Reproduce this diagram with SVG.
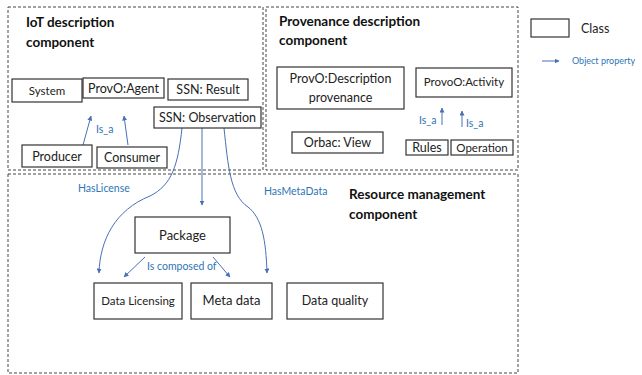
<svg xmlns="http://www.w3.org/2000/svg" width="642" height="375" viewBox="0 0 642 375">
<defs>
<marker id="ah" viewBox="0 0 10 10" refX="9" refY="5" markerWidth="5" markerHeight="5" orient="auto-start-reverse" markerUnits="userSpaceOnUse">
<path d="M0,0 L10,5 L0,10 z" fill="#4a6fb5"/>
</marker>
<style>
.cont{fill:none;stroke:#444;stroke-width:1;stroke-dasharray:3,2}
.node{fill:#fff;stroke:#333;stroke-width:1.2}
.t{font-family:Lato,"Open Sans","Liberation Sans",sans-serif;font-size:12.5px;fill:#222;text-anchor:middle}
.title{font-family:Lato,"Open Sans","Liberation Sans",sans-serif;font-size:13.5px;font-weight:bold;fill:#111}
.lbl{font-family:Lato,"Open Sans","Liberation Sans",sans-serif;font-size:10.5px;fill:#2e75b6}
.edge{fill:none;stroke:#4a6fb5;stroke-width:1;marker-end:url(#ah)}
</style>
</defs>
<rect width="642" height="375" fill="#fff"/>

<g id="containers">
<rect class="cont" x="8" y="7" width="255" height="163"/>
<rect class="cont" x="266" y="7" width="252" height="163"/>
<rect class="cont" x="8" y="174" width="510" height="199"/>
<text class="title" x="26" y="27">IoT description</text>
<text class="title" x="26" y="47">component</text>
<text class="title" x="279" y="26">Provenance description</text>
<text class="title" x="279" y="45">component</text>
<text class="title" x="349" y="199">Resource management</text>
<text class="title" x="349" y="219">component</text>
</g>

<g id="connectors">
<path class="edge" d="M83,145 L91,116"/>
<path class="edge" d="M128,145 L124,116"/>
<path class="edge" d="M442,125 L442,108"/>
<path class="edge" d="M462,127 L462,111"/>
<path class="edge" d="M202,128 L202,205"/>
<path class="edge" d="M182,128 C178,165 172,185 150,196 C115,210 100,240 99,273"/>
<path class="edge" d="M224,128 C228,165 230,195 248,207 C262,218 266,240 267,273"/>
<path class="edge" d="M145,257 L124,277"/>
<path class="edge" d="M213,257 L230,277"/>
<text class="lbl" x="96" y="133">Is_a</text>
<text class="lbl" x="419" y="124">Is_a</text>
<text class="lbl" x="466" y="127">Is_a</text>
<text class="lbl" x="78" y="192">HasLicense</text>
<text class="lbl" x="264" y="195">HasMetaData</text>
<text class="lbl" x="147" y="270">Is composed of</text>
</g>

<g id="system"><rect class="node" x="12" y="79" width="70" height="23"/><text class="t" x="47" y="95" style="font-size:11.5px">System</text></g>
<g id="agent"><rect class="node" x="83" y="78" width="81" height="20"/><text class="t" x="123.5" y="93">ProvO:Agent</text></g>
<g id="result"><rect class="node" x="168" y="79" width="80" height="21"/><text class="t" x="208" y="94">SSN: Result</text></g>
<g id="observation"><rect class="node" x="154" y="107" width="107" height="21"/><text class="t" x="207.5" y="122">SSN: Observation</text></g>
<g id="producer"><rect class="node" x="22" y="145" width="70" height="22"/><text class="t" x="57" y="161">Producer</text></g>
<g id="consumer"><rect class="node" x="97" y="147" width="70" height="21"/><text class="t" x="132" y="162">Consumer</text></g>

<g id="description"><rect class="node" x="277" y="67" width="127" height="42"/><text class="t" x="340.5" y="83">ProvO:Description</text><text class="t" x="340.5" y="102">provenance</text></g>
<g id="activity"><rect class="node" x="416" y="68" width="96" height="29"/><text class="t" x="464" y="86" style="font-size:11.5px">ProvoO:Activity</text></g>
<g id="view"><rect class="node" x="292" y="132" width="91" height="21"/><text class="t" x="337.5" y="147">Orbac: View</text></g>
<g id="rules"><rect class="node" x="406" y="140" width="42" height="15"/><text class="t" x="427" y="152">Rules</text></g>
<g id="operation"><rect class="node" x="451" y="140" width="62" height="15"/><text class="t" x="482" y="152" style="font-size:11.5px">Operation</text></g>

<g id="package"><rect class="node" x="135" y="217" width="95" height="36"/><text class="t" x="182.5" y="240" style="font-size:13px">Package</text></g>
<g id="licensing"><rect class="node" x="94" y="283" width="88" height="36"/><text class="t" x="138" y="305" style="font-size:11.5px">Data Licensing</text></g>
<g id="metadata"><rect class="node" x="191" y="283" width="81" height="36"/><text class="t" x="231.5" y="305" style="font-size:13px">Meta data</text></g>
<g id="quality"><rect class="node" x="287" y="283" width="96" height="36"/><text class="t" x="335" y="305">Data quality</text></g>

<g id="legend">
<rect class="node" x="531" y="19" width="38" height="18"/>
<text class="t" x="581" y="33" style="text-anchor:start;font-size:12.5px">Class</text>
<path class="edge" d="M542,61 L559,61"/>
<text class="lbl" x="572" y="64" style="font-size:9px">Object property</text>
</g>
</svg>
